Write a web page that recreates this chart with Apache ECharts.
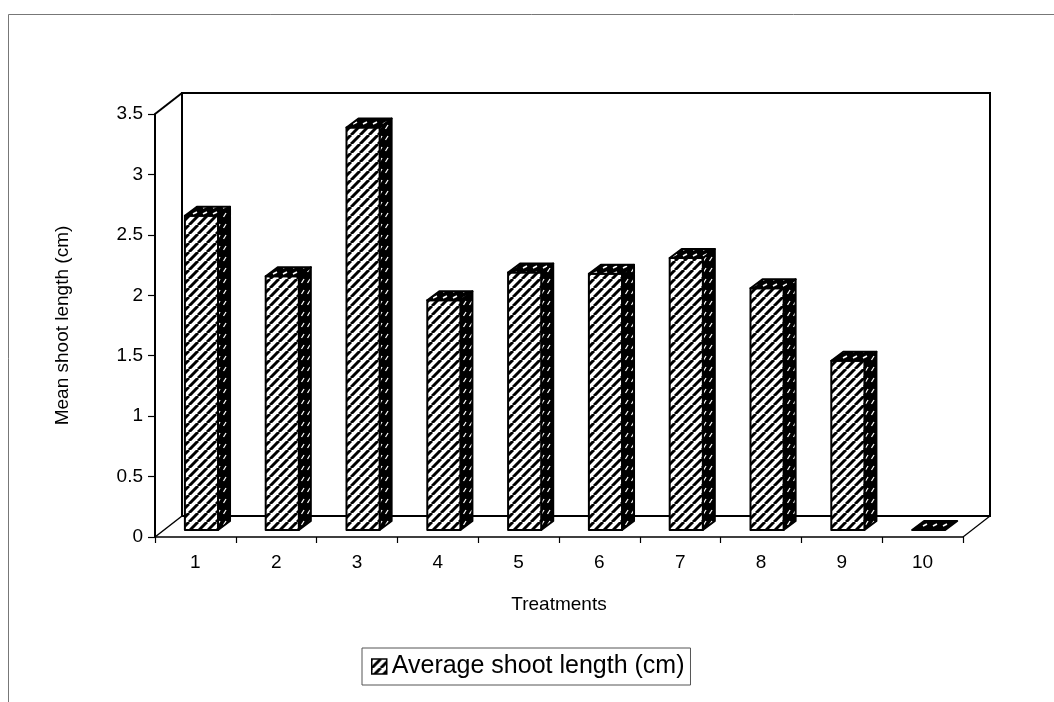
<!DOCTYPE html>
<html>
<head>
<meta charset="utf-8">
<title>Average shoot length</title>
<script src="https://cdn.jsdelivr.net/npm/echarts@6/dist/echarts.min.js"></script>
<style>
  html, body { margin: 0; padding: 0; background: #fff; }
  #chart { width: 1054px; height: 702px; }
</style>
</head>
<body>
<div id="chart"></div>
<script>
// Treatments on the category axis and mean shoot length (cm) per treatment
const treatments = ['1', '2', '3', '4', '5', '6', '7', '8', '9', '10'];
const shootLength = [2.6, 2.1, 3.33, 1.9, 2.13, 2.12, 2.25, 2.0, 1.4, 0];
const seriesName = 'Average shoot length (cm)';

// Hatch fills for the bar faces
function makePattern(w, h, bg, fg, lw, draw) {
  const c = document.createElement('canvas');
  c.width = w; c.height = h;
  const ctx = c.getContext('2d');
  ctx.fillStyle = bg; ctx.fillRect(0, 0, w, h);
  ctx.strokeStyle = fg; ctx.lineWidth = lw; ctx.lineCap = 'butt';
  draw(ctx, w, h);
  return { image: c, repeat: 'repeat' };
}
const frontHatch = makePattern(9, 9, '#fff', '#000', 3, function (ctx, w, h) {
  for (let k = -1; k <= 1; k++) {
    ctx.beginPath();
    ctx.moveTo(k * w, h);
    ctx.lineTo(k * w + w, 0);
    ctx.stroke();
  }
});
const sideHatch = makePattern(6, 11, '#000', '#fff', 1.3, function (ctx) {
  ctx.beginPath(); ctx.moveTo(1.5, 8); ctx.lineTo(4, 4); ctx.stroke();
});
const topHatch = makePattern(10, 6, '#000', '#fff', 1.6, function (ctx) {
  ctx.beginPath(); ctx.moveTo(3, 4); ctx.lineTo(7, 2); ctx.stroke();
});

// Depth of the box walls and of the bars (screen offsets)
const WALL_DX = 27, WALL_DY = -21;
const BAR_SHIFT_Y = -7;
const BAR_DX = 12, BAR_DY = -9;

const chart = echarts.init(document.getElementById('chart'), null, { renderer: 'canvas' });

function renderFrame(params, api) {
  const cs = params.coordSys;
  const x0 = cs.x, y0 = cs.y, x1 = cs.x + cs.width, y1 = cs.y + cs.height;
  const line = { stroke: '#000', lineWidth: 2, fill: null };
  return {
    type: 'group',
    children: [
      { type: 'rect', shape: { x: x0 + WALL_DX, y: y0 + WALL_DY, width: cs.width, height: cs.height },
        style: { fill: '#fff', stroke: '#000', lineWidth: 2 } },
      { type: 'line', shape: { x1: x0, y1: y0, x2: x0 + WALL_DX, y2: y0 + WALL_DY }, style: line },
      { type: 'line', shape: { x1: x0, y1: y1, x2: x0 + WALL_DX, y2: y1 + WALL_DY }, style: { stroke: '#000', lineWidth: 1.5 } },
      { type: 'line', shape: { x1: x1, y1: y1, x2: x1 + WALL_DX, y2: y1 + WALL_DY }, style: { stroke: '#000', lineWidth: 1.2 } }
    ]
  };
}

function renderBar(params, api) {
  const i = api.value(0);
  const v = api.value(1);
  const base = api.coord([i, 0]);
  const top = api.coord([i, v]);
  const band = api.size([1, 0])[0];
  const left = base[0] - band * 0.13;
  const right = left + band * 0.41;
  const by = base[1] + BAR_SHIFT_Y;
  const ty = top[1] + BAR_SHIFT_Y;
  const edge = { stroke: '#000', lineWidth: 2, lineJoin: 'round' };
  const children = [];
  if (by - ty > 0.5) {
    children.push({
      type: 'polygon',
      shape: { points: [[right, ty], [right + BAR_DX, ty + BAR_DY], [right + BAR_DX, by + BAR_DY], [right, by]] },
      style: Object.assign({ fill: sideHatch }, edge)
    });
    children.push({
      type: 'rect',
      shape: { x: left, y: ty, width: right - left, height: by - ty },
      style: Object.assign({ fill: frontHatch }, edge)
    });
  }
  children.push({
    type: 'polygon',
    shape: { points: [[left, ty], [left + BAR_DX, ty + BAR_DY], [right + BAR_DX, ty + BAR_DY], [right, ty]] },
    style: Object.assign({ fill: topHatch }, edge)
  });
  return { type: 'group', children: children };
}

const labelFont = { fontFamily: 'Liberation Sans, Arial, sans-serif', color: '#000' };

chart.setOption({
  animation: false,
  backgroundColor: '#fff',
  graphic: [{
    type: 'rect', silent: true, z: -10,
    shape: { x: 8.5, y: 14.5, width: 1100, height: 800 },
    style: { fill: null, stroke: '#777', lineWidth: 1 }
  }],
  grid: { left: 155, top: 114, width: 808, height: 423, containLabel: false },
  legend: {
    data: [{ name: seriesName, icon: 'rect', itemStyle: { color: frontHatch, borderColor: '#000', borderWidth: 1.5 } }],
    left: 362, top: 648,
    padding: [6, 6, 6, 9],
    borderColor: '#555', borderWidth: 1,
    itemWidth: 15, itemHeight: 15,
    itemGap: 6,
    selectedMode: false,
    textStyle: Object.assign({ fontSize: 25 }, labelFont)
  },
  xAxis: {
    type: 'category',
    data: treatments,
    boundaryGap: true,
    name: 'Treatments',
    nameLocation: 'middle',
    nameGap: 58,
    nameTextStyle: Object.assign({ fontSize: 19 }, labelFont),
    axisLine: { lineStyle: { color: '#000', width: 1.5 } },
    axisTick: { show: true, length: 6, lineStyle: { color: '#000', width: 1.2 } },
    axisLabel: Object.assign({ fontSize: 19, margin: 16 }, labelFont),
    splitLine: { show: false }
  },
  yAxis: {
    type: 'value',
    min: 0, max: 3.5, interval: 0.5,
    name: 'Mean shoot length (cm)',
    nameLocation: 'middle',
    nameGap: 83,
    nameTextStyle: Object.assign({ fontSize: 19 }, labelFont),
    axisLine: { show: true, lineStyle: { color: '#000', width: 2 } },
    axisTick: { show: true, length: 7, lineStyle: { color: '#000', width: 1.2 } },
    axisLabel: Object.assign({ fontSize: 19, margin: 12 }, labelFont),
    splitLine: { show: false }
  },
  series: [
    {
      name: 'box',
      type: 'custom',
      z: 1,
      silent: true,
      renderItem: renderFrame,
      data: [[0, 0]]
    },
    {
      name: seriesName,
      type: 'custom',
      z: 3,
      itemStyle: { color: frontHatch },
      renderItem: renderBar,
      encode: { x: 0, y: 1 },
      data: shootLength.map(function (v, i) { return [i, v]; })
    }
  ]
});
</script>
</body>
</html>
